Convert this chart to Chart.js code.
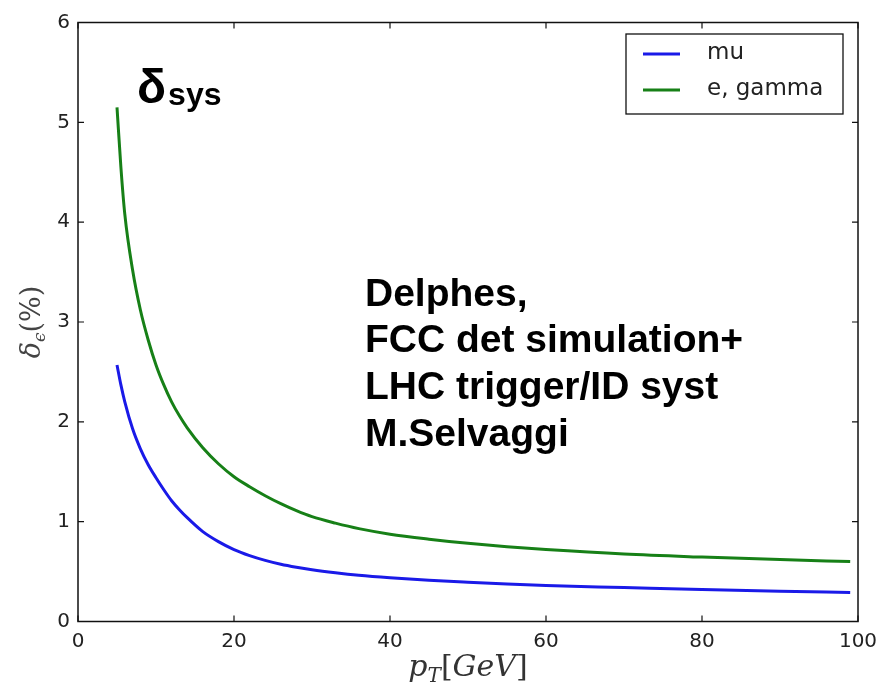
<!DOCTYPE html>
<html>
<head>
<meta charset="utf-8">
<script src="https://cdn.jsdelivr.net/npm/chart.js@4.4.1/dist/chart.umd.min.js"></script>
<style>
html,body{margin:0;padding:0;background:#fff;}
#wrap{width:878px;height:691px;position:relative;}
</style>
</head>
<body>
<div id="wrap"><canvas id="c" width="878" height="691"></canvas></div>
<script>
const ptValues = [5,5.5,6,7,8,9,10,11,12,13,14,16,18,20,22,24,26,28,30,33,36,40,45,50,55,60,70,80,90,99];
const muValues = [2.57,2.37,2.20,1.93,1.73,1.57,1.44,1.32,1.21,1.12,1.04,0.90,0.80,0.72,0.66,0.612,0.573,0.543,0.518,0.488,0.463,0.438,0.413,0.393,0.375,0.36,0.34,0.32,0.303,0.29];
const egammaValues = [5.15,4.55,4.08,3.52,3.12,2.82,2.57,2.37,2.20,2.06,1.94,1.74,1.58,1.45,1.35,1.26,1.18,1.11,1.05,0.985,0.93,0.875,0.825,0.783,0.748,0.72,0.675,0.645,0.62,0.60];
const seriesNames = ['mu','e, gamma'];
const xTicks = [0,20,40,60,80,100];
const yTicks = [0,1,2,3,4,5,6];
const annotationLines = ['Delphes,','FCC det simulation+','LHC trigger/ID syst','M.Selvaggi'];

const blue = '#1a1ae8';
const green = '#178017';

function toPts(xs, ys){ return xs.map((x,i)=>({x:x,y:ys[i]})); }

const framePlugin = {
  id:'frame',
  afterDraw(chart){
    const ctx = chart.ctx, a = chart.chartArea;
    const xs = chart.scales.x, ys = chart.scales.y;
    ctx.save();
    ctx.strokeStyle = '#111';
    ctx.lineWidth = 1.5;
    ctx.strokeRect(a.left, a.top, a.right-a.left, a.bottom-a.top);
    ctx.lineWidth = 1.2;
    const L = 6;
    xTicks.forEach(v=>{
      const px = xs.getPixelForValue(v);
      ctx.beginPath();
      ctx.moveTo(px, a.bottom); ctx.lineTo(px, a.bottom-L);
      ctx.moveTo(px, a.top); ctx.lineTo(px, a.top+L);
      ctx.stroke();
    });
    yTicks.forEach(v=>{
      const py = ys.getPixelForValue(v);
      ctx.beginPath();
      ctx.moveTo(a.left, py); ctx.lineTo(a.left+L, py);
      ctx.moveTo(a.right, py); ctx.lineTo(a.right-L, py);
      ctx.stroke();
    });

    // legend
    const bw = 217, bh = 80;
    const bx = a.right - 15 - bw, by = a.top + 11.5;
    ctx.fillStyle = '#fff';
    ctx.fillRect(bx, by, bw, bh);
    ctx.strokeStyle = '#111';
    ctx.lineWidth = 1.3;
    ctx.strokeRect(bx, by, bw, bh);
    const cols = [blue, green];
    ctx.font = '23px "DejaVu Sans"';
    ctx.textBaseline = 'middle';
    ctx.textAlign = 'left';
    seriesNames.forEach((n,i)=>{
      const yy = by + 20 + i*36;
      ctx.strokeStyle = cols[i];
      ctx.lineWidth = 3;
      ctx.beginPath();
      ctx.moveTo(bx+17, yy); ctx.lineTo(bx+54, yy);
      ctx.stroke();
      ctx.fillStyle = '#222';
      ctx.fillText(n, bx+81, yy-1);
    });

    // delta_sys label
    ctx.fillStyle = '#000';
    ctx.textBaseline = 'alphabetic';
    ctx.font = 'bold 48px "Liberation Sans"';
    ctx.fillText('δ', a.left+59, a.top+80);
    const dw = ctx.measureText('δ').width;
    ctx.font = 'bold 32px "Liberation Sans"';
    ctx.fillText('sys', a.left+59+dw+2, a.top+82);

    // annotation
    ctx.font = 'bold 39px "Liberation Sans"';
    annotationLines.forEach((t,i)=>{
      ctx.fillText(t, a.left+287, a.top+283+i*46.7);
    });

    // x title  p_T[GeV]
    const cx = (a.left+a.right)/2;
    ctx.fillStyle = '#333';
    let parts = [
      {t:'p', f:'italic 30px "DejaVu Serif"', dy:0},
      {t:'T', f:'italic 20px "DejaVu Serif"', dy:6},
      {t:'[', f:'30px "DejaVu Serif"', dy:0},
      {t:'GeV', f:'italic 30px "DejaVu Serif"', dy:0},
      {t:']', f:'30px "DejaVu Serif"', dy:0}
    ];
    let tw = 0;
    parts.forEach(p=>{ctx.font=p.f; p.w=ctx.measureText(p.t).width; tw+=p.w;});
    let x0 = cx - tw/2, base = 676;
    parts.forEach(p=>{ctx.font=p.f; ctx.fillText(p.t, x0, base+p.dy); x0+=p.w;});

    // y title delta_eps(%)
    ctx.translate(40, (a.top+a.bottom)/2);
    ctx.rotate(-Math.PI/2);
    ctx.fillStyle = '#444';
    parts = [
      {t:'δ', f:'italic 27px "DejaVu Serif"', dy:0},
      {t:'ϵ', f:'italic 17px "DejaVu Serif"', dy:5},
      {t:'(%)', f:'27px "DejaVu Serif"', dy:0}
    ];
    tw = 0;
    parts.forEach(p=>{ctx.font=p.f; p.w=ctx.measureText(p.t).width; tw+=p.w;});
    x0 = -tw/2;
    parts.forEach(p=>{ctx.font=p.f; ctx.fillText(p.t, x0, p.dy); x0+=p.w;});
    ctx.restore();
  }
};

new Chart(document.getElementById('c'), {
  type:'line',
  data:{
    datasets:[
      {label:seriesNames[0], data:toPts(ptValues, muValues), borderColor:blue, borderWidth:3, pointRadius:0, cubicInterpolationMode:'monotone', fill:false},
      {label:seriesNames[1], data:toPts(ptValues, egammaValues), borderColor:green, borderWidth:3, pointRadius:0, cubicInterpolationMode:'monotone', fill:false}
    ]
  },
  options:{
    responsive:false,
    animation:false,
    devicePixelRatio:1,
    layout:{padding:{left:0,right:20,top:22.5,bottom:0}},
    plugins:{legend:{display:false}, tooltip:{enabled:false}},
    scales:{
      x:{
        type:'linear', min:0, max:100,
        afterBuildTicks(s){ s.ticks = xTicks.map(v=>({value:v})); },
        afterFit(s){ s.height = 69.5; s.paddingLeft = 0; s.paddingRight = 0; },
        grid:{display:false, drawTicks:false},
        border:{display:false},
        ticks:{padding:8, color:'#222', font:{family:'DejaVu Sans', size:20}, maxRotation:0, autoSkip:false}
      },
      y:{
        type:'linear', min:0, max:6,
        afterBuildTicks(s){ s.ticks = yTicks.map(v=>({value:v})); },
        afterFit(s){ s.width = 78; s.paddingTop = 0; s.paddingBottom = 0; },
        grid:{display:false, drawTicks:false},
        border:{display:false},
        ticks:{padding:8, color:'#222', font:{family:'DejaVu Sans', size:20}, autoSkip:false}
      }
    }
  },
  plugins:[framePlugin]
});
</script>
</body>
</html>
